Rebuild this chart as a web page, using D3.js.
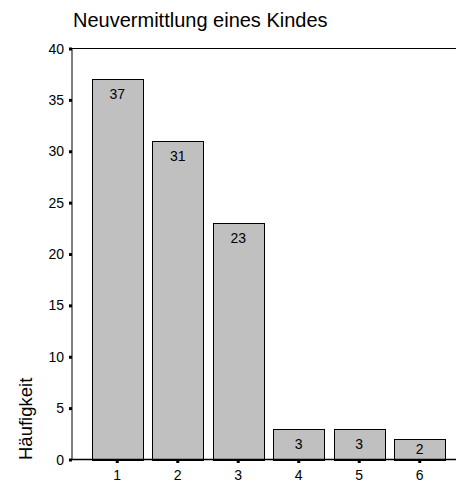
<!DOCTYPE html>
<html><head><meta charset="utf-8">
<script src="https://cdn.jsdelivr.net/npm/d3@7"></script>
<style>body{margin:0;background:#fff}svg{display:block}text{font-family:"Liberation Sans",Arial,sans-serif}</style>
</head><body>
<svg id="c" width="456" height="482"></svg>
<script>
const categories = ["1","2","3","4","5","6"];
const values = [37,31,23,3,3,2];
const yTicks = [0,5,10,15,20,25,30,35,40];
const title = "Neuvermittlung eines Kindes";
const yLabel = "Häufigkeit";

const svg = d3.select("#c");
const x = d3.scaleBand().domain(categories).range([87,450]).paddingInner(0.16).paddingOuter(0.08);
const y = d3.scaleLinear().domain([0,40]).range([459.5,48.5]);

svg.append("text").attr("x",73).attr("y",27).attr("font-size",20).text(title);

// frame lines
svg.append("line").attr("x1",72).attr("x2",456).attr("y1",y(40)).attr("y2",y(40)).attr("stroke","#000");
svg.append("line").attr("x1",72).attr("x2",72).attr("y1",y(40)).attr("y2",y(0)).attr("stroke","#000");

// bars
const g = svg.append("g");
g.selectAll("rect").data(values).join("rect")
  .attr("x",(d,i)=>Math.round(x(categories[i]))+0.5)
  .attr("y",d=>Math.round(y(d))+0.5)
  .attr("width",Math.round(x.bandwidth()))
  .attr("height",d=>Math.round(y(0))-Math.round(y(d)))
  .attr("fill","#c0c0c0").attr("stroke","#000").attr("stroke-width",1);
g.selectAll("text").data(values).join("text")
  .attr("x",(d,i)=>x(categories[i])+x.bandwidth()/2)
  .attr("y",d=>Math.min(y(d)+20, y(0)-6))
  .attr("text-anchor","middle").attr("font-size",14).text(d=>d);

// baseline
svg.append("line").attr("x1",72).attr("x2",456).attr("y1",y(0)).attr("y2",y(0)).attr("stroke","#000").attr("stroke-width",1.3);

// y axis ticks
const ya = svg.append("g");
ya.selectAll("rect").data(yTicks).join("rect")
  .attr("x",69).attr("y",d=>y(d)-1).attr("width",3).attr("height",3).attr("fill","#000");
ya.selectAll("text").data(yTicks).join("text")
  .attr("x",64).attr("y",d=>y(d)+5).attr("text-anchor","end").attr("font-size",14).text(d=>d);

// x axis ticks
const xa = svg.append("g");
xa.selectAll("rect").data(categories).join("rect")
  .attr("x",d=>x(d)+x.bandwidth()/2-1.5).attr("y",y(0)+0.5).attr("width",3).attr("height",3).attr("fill","#000");
xa.selectAll("text").data(categories).join("text")
  .attr("x",d=>x(d)+x.bandwidth()/2).attr("y",480).attr("text-anchor","middle").attr("font-size",14).text(d=>d);

svg.append("text").attr("transform","translate(32,460) rotate(-90)")
  .attr("font-size",18.5).attr("text-anchor","start").text(yLabel);
</script>
</body></html>
